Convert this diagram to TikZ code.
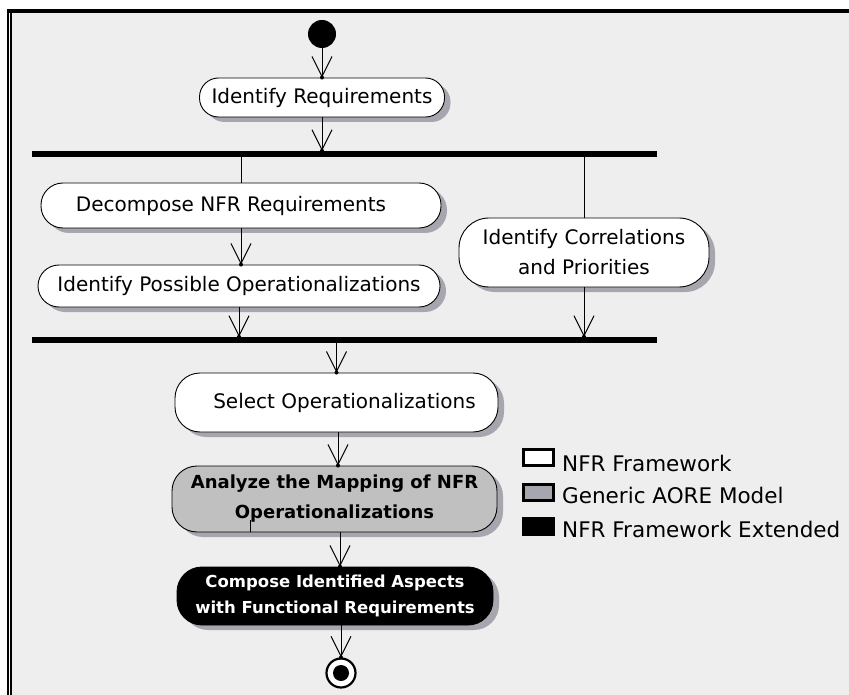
\documentclass[tikz,border=0pt]{standalone}
\usepackage{fontspec}
\setmainfont{DejaVu Sans}
\usetikzlibrary{arrows.meta,shadows}

\definecolor{canvas}{RGB}{238,238,238}
\definecolor{shade}{RGB}{166,166,174}
\definecolor{aore}{RGB}{192,192,192}

\tikzset{
  activity/.style={draw=black, line width=0.9pt, fill=white, rounded corners=#1,
    inner sep=0pt, align=center, font=\fontsize{20}{30}\selectfont,
    drop shadow={shadow xshift=6pt, shadow yshift=-5pt, fill=shade, opacity=1}},
  activity/.default=19pt,
  bar/.style={fill=black, inner sep=0pt, minimum width=625pt, minimum height=6pt},
  flow/.style={line width=1pt, -{Straight Barb[length=20pt,width=20pt,line width=1pt]}},
  plain/.style={line width=1pt},
  legbox/.style={draw=black, line width=3pt, inner sep=0pt, minimum width=30pt, minimum height=16pt},
  legtext/.style={anchor=base west, inner sep=0pt, font=\fontsize{21.5}{24}\selectfont},
}

\begin{document}
\begin{tikzpicture}[x=1pt, y=-1pt]
  % page and frame
  \fill[white] (0,0) rectangle (849,695);
  \useasboundingbox (0,0) rectangle (849,695);
  \fill[canvas] (12,13) rectangle (849,695);
  \fill[black] (7,9) rectangle (849,13);
  \fill[black] (7,9) rectangle (9,695);
  \fill[black] (10,13) rectangle (12,695);

  % initial node
  \node[circle, fill=black, inner sep=0pt, minimum size=28pt] (start) at (322,34) {};

  % activities
  \node[activity, minimum width=245pt, minimum height=39pt] (ir) at (322,97.5) {Identify Requirements};
  \node[bar] (bar1) at (344.5,154) {};
  \node[activity=22pt, minimum width=400pt, minimum height=45pt] (dec) at (241,205.5) {Decompose NFR Requirements\hspace{20pt}};
  \node[activity=21pt, minimum width=402pt, minimum height=42pt] (ipo) at (239,286) {Identify Possible Operationalizations};
  \node[activity=30pt, minimum width=250pt, minimum height=69pt] (cor) at (584,252.5) {Identify Correlations\\and Priorities};
  \node[bar] (bar2) at (344.5,340) {};
  \node[activity=25pt, minimum width=323pt, minimum height=59pt] (sel) at (336.5,402.5) {\hspace{16pt}Select Operationalizations};
  \node[activity=25pt, fill=aore, minimum width=325pt, minimum height=66pt,
        font=\fontsize{18}{30}\bfseries\selectfont] (ana) at (334.5,499) {Analyze the Mapping of NFR\\Operationalizations};
  \node[activity=25pt, fill=black, text=white, minimum width=316pt, minimum height=58pt,
        font=\fontsize{16.5}{26}\bfseries\selectfont] (com) at (335,596) {Compose Identified Aspects\\with Functional Requirements};

  % final node
  \node[circle, draw=black, line width=2.2pt, fill=white, inner sep=0pt, minimum size=29pt] (end) at (341,673) {};
  \fill[black] (end.center) circle (8pt);

  % small stub inside the mapping activity
  \draw[plain, line width=0.9pt] ([xshift=-84.5pt]ana.south) -- ++(0,-12);

  % control flow
  \draw[flow] (start.south) -- (ir.north) coordinate (t1);
  \draw[flow] (ir.south) -- (ir.south |- bar1.north) coordinate (t2);
  \draw[plain] (bar1.south -| dec.north) -- (dec.north);
  \draw[plain] (bar1.south -| cor.north) -- (cor.north);
  \draw[flow] (dec.south) -- (dec.south |- ipo.north) coordinate (t3);
  \draw[flow] (ipo.south) -- (ipo.south |- bar2.north) coordinate (t4);
  \draw[flow] (cor.south) -- (cor.south |- bar2.north) coordinate (t5);
  \draw[flow] (sel.north |- bar2.south) -- (sel.north) coordinate (t6);
  \draw[flow] ([xshift=1.5pt]sel.south) -- ([xshift=1.5pt]sel.south |- ana.north) coordinate (t7);
  \draw[flow] ([xshift=5.5pt]ana.south) -- ([xshift=5.5pt]ana.south |- com.north) coordinate (t8);
  \draw[flow] (com.south -| end.north) -- (end.north) coordinate (t9);
  \foreach \t in {t1,t2,t3,t4,t5,t6,t7,t8,t9} \fill[black] (\t) circle (2pt);

  % legend
  \node[legbox, fill=white] (lg1) at (538.5,457.5) {};
  \node[legbox, fill=shade] (lg2) at (538.5,492.5) {};
  \node[legbox, fill=black] (lg3) at (538.5,526.5) {};
  \node[legtext] (lt1) at (562,471) {NFR Framework};
  \node[legtext] (lt2) at (562,503) {Generic AORE Model};
  \node[legtext] (lt3) at (562,537) {NFR Framework Extended};
\end{tikzpicture}
\end{document}
